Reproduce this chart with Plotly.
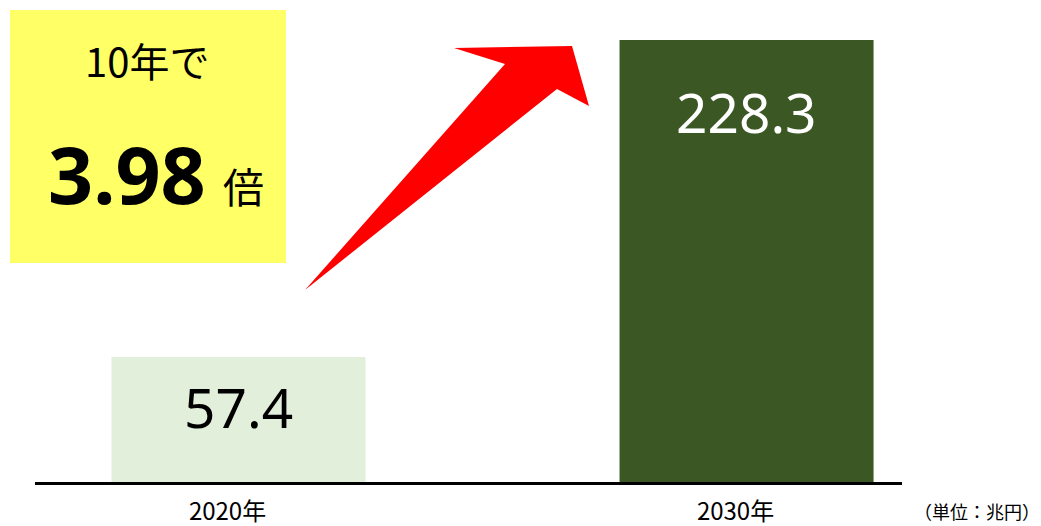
import plotly.graph_objects as go

# ---- data ----
categories = ["2020年", "2030年"]
values = [57.4, 228.3]
value_labels = ["57.4", "228.3"]
growth_label = "3.98"
unit_label = "（単位：兆円）"
axis_min = -10  # category axis crosses the value axis here

# ---- style ----
bar_colors = ["#E2EFDA", "#3A5724"]
label_colors = ["#000000", "#FFFFFF"]
label_shift = [-50, -71]  # px from bar top to label centre

W, H = 1041, 526


def px(x):
    return x / W


def py(y):
    return 1 - y / H


fig = go.Figure()
fig.add_trace(go.Bar(
    x=categories,
    y=[v - axis_min for v in values],
    base=axis_min,
    width=0.5,
    marker=dict(color=bar_colors, line=dict(width=0)),
    hoverinfo="skip",
))

annotations = []
for c, v, t, col, sh in zip(categories, values, value_labels, label_colors, label_shift):
    annotations.append(dict(
        x=c, y=v, xref="x", yref="y", text=t, showarrow=False,
        xanchor="center", yanchor="middle", yshift=sh,
        font=dict(family="Noto Sans", size=55, color=col),
    ))

# yellow box texts
annotations += [
    dict(x=px(147), y=py(60), xref="paper", yref="paper", text="10年で",
         showarrow=False, xanchor="center", yanchor="middle",
         font=dict(family="Noto Sans CJK JP", size=40, color="#000000")),
    dict(x=px(127), y=py(173), xref="paper", yref="paper", text="<b>" + growth_label + "</b>",
         showarrow=False, xanchor="center", yanchor="middle",
         font=dict(family="Noto Sans", size=79, color="#000000")),
    dict(x=px(243), y=py(185), xref="paper", yref="paper", text="倍",
         showarrow=False, xanchor="center", yanchor="middle",
         font=dict(family="Noto Sans CJK JP", size=41, color="#000000")),
    dict(x=px(977), y=py(511), xref="paper", yref="paper", text=unit_label,
         showarrow=False, xanchor="center", yanchor="middle",
         font=dict(family="Noto Sans CJK JP", size=18, color="#000000")),
]

# red arrow polygon (pixel coords)
arrow_pts = [(305, 290), (505, 64), (454, 48), (572, 46), (589, 106), (557, 89)]
path = "M " + " L ".join(f"{px(x):.5f},{py(y):.5f}" for x, y in arrow_pts) + " Z"

shapes = [
    dict(type="rect", xref="paper", yref="paper",
         x0=px(10), x1=px(286), y0=py(263), y1=py(10),
         fillcolor="#FFFF66", line=dict(width=0), layer="below"),
    dict(type="path", xref="paper", yref="paper", path=path,
         fillcolor="#FF0000", line=dict(width=0)),
]

fig.update_layout(
    template="none",
    width=W, height=H,
    margin=dict(l=0, r=0, t=0, b=0),
    paper_bgcolor="white", plot_bgcolor="rgba(0,0,0,0)",
    showlegend=False,
    annotations=annotations,
    shapes=shapes,
    xaxis=dict(
        type="category",
        domain=[px(35), px(902)],
        range=[-0.4006, 1.306],
        showline=True, linecolor="#000000", linewidth=2.5,
        showgrid=False, zeroline=False, ticks="",
        ticklabelshift=-11, ticklabelstandoff=6,
        tickfont=dict(family="Noto Sans CJK JP", size=24, color="#000000"),
        automargin=False, fixedrange=True,
    ),
    yaxis=dict(
        domain=[1 - 482 / H, 1],
        range=[axis_min, axis_min + 482 / (442 / (values[1] - axis_min))],
        visible=False, showgrid=False, zeroline=False,
        automargin=False, fixedrange=True,
    ),
)

fig.write_html(
    "out.html",
    config={"displayModeBar": False},
    post_script="document.body.style.margin='0px';document.body.style.overflow='hidden';",
)
